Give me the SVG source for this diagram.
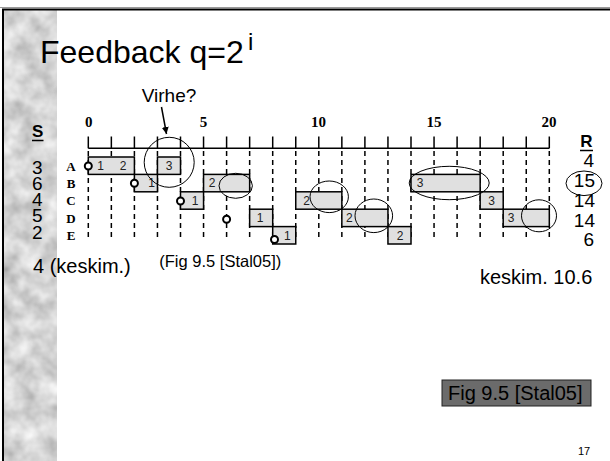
<svg xmlns="http://www.w3.org/2000/svg" width="610" height="461" viewBox="0 0 610 461">
<style>
.sans{font-family:"Liberation Sans",Arial,sans-serif;}
.serifb{font-family:"Liberation Serif","Times New Roman",serif;font-weight:bold;}
.box{fill:#e0e0e0;stroke:#000;stroke-width:1.5;}
.bl{font-family:"Liberation Sans",Arial,sans-serif;font-size:12px;fill:#222;text-anchor:middle;}
.dash{stroke:#000;stroke-width:1.5;stroke-dasharray:5 4;}
.tick{stroke:#000;stroke-width:1.5;}
.ell{fill:none;stroke:#000;stroke-width:1;}
.start{fill:#fff;stroke:#000;stroke-width:2;}
.num{font-family:"Liberation Sans",Arial,sans-serif;font-size:19px;fill:#000;}
</style>
<defs>
<filter id="tex" x="0" y="0" width="1" height="1">
<feTurbulence type="fractalNoise" baseFrequency="0.05" numOctaves="3" seed="7"/>
<feColorMatrix type="matrix" values="0.7 0 0 0 0.32  0.7 0 0 0 0.32  0.7 0 0 0 0.32  0 0 0 0 1"/>
</filter>
<marker id="arr" markerWidth="8" markerHeight="8" refX="7" refY="4" orient="auto" markerUnits="userSpaceOnUse">
<path d="M0,0.5 L7,4 L0,7.5 z" fill="#000"/>
</marker>
</defs>
<rect width="610" height="461" fill="#fff"/>
<g id="background">
<rect x="4" y="10" width="53" height="451" fill="#aaa" filter="url(#tex)"/>
<line x1="0" y1="7.5" x2="610" y2="7.5" stroke="#999" stroke-width="1"/>
<line x1="2" y1="9.5" x2="610" y2="9.5" stroke="#000" stroke-width="2"/>
<line x1="3" y1="9" x2="3" y2="461" stroke="#000" stroke-width="2"/>
</g>
<g id="title">
<text class="sans" x="40" y="63" font-size="32">Feedback q=2</text>
<text class="sans" x="248" y="50" font-size="24">i</text>
</g>
<g id="axis">
<line x1="88.3" y1="148.3" x2="549.3" y2="148.3" class="tick"/>
<g class="tick">
<line x1="88.3" y1="136.5" x2="88.3" y2="148.3"/><line x1="111.35" y1="136.5" x2="111.35" y2="148.3"/>
<line x1="134.4" y1="136.5" x2="134.4" y2="148.3"/><line x1="157.45" y1="136.5" x2="157.45" y2="148.3"/>
<line x1="180.5" y1="136.5" x2="180.5" y2="148.3"/><line x1="203.55" y1="136.5" x2="203.55" y2="148.3"/>
<line x1="226.6" y1="136.5" x2="226.6" y2="148.3"/><line x1="249.65" y1="136.5" x2="249.65" y2="148.3"/>
<line x1="272.7" y1="136.5" x2="272.7" y2="148.3"/><line x1="295.75" y1="136.5" x2="295.75" y2="148.3"/>
<line x1="318.8" y1="136.5" x2="318.8" y2="148.3"/><line x1="341.85" y1="136.5" x2="341.85" y2="148.3"/>
<line x1="364.9" y1="136.5" x2="364.9" y2="148.3"/><line x1="387.95" y1="136.5" x2="387.95" y2="148.3"/>
<line x1="411" y1="136.5" x2="411" y2="148.3"/><line x1="434.05" y1="136.5" x2="434.05" y2="148.3"/>
<line x1="457.1" y1="136.5" x2="457.1" y2="148.3"/><line x1="480.15" y1="136.5" x2="480.15" y2="148.3"/>
<line x1="503.2" y1="136.5" x2="503.2" y2="148.3"/><line x1="526.25" y1="136.5" x2="526.25" y2="148.3"/>
<line x1="549.3" y1="136.5" x2="549.3" y2="148.3"/>
</g>
<g class="dash">
<line x1="88.3" y1="151" x2="88.3" y2="241"/><line x1="111.35" y1="151" x2="111.35" y2="241"/>
<line x1="134.4" y1="151" x2="134.4" y2="241"/><line x1="157.45" y1="151" x2="157.45" y2="241"/>
<line x1="180.5" y1="151" x2="180.5" y2="241"/><line x1="203.55" y1="151" x2="203.55" y2="241"/>
<line x1="226.6" y1="151" x2="226.6" y2="241"/><line x1="249.65" y1="151" x2="249.65" y2="241"/>
<line x1="272.7" y1="151" x2="272.7" y2="241"/><line x1="295.75" y1="151" x2="295.75" y2="241"/>
<line x1="318.8" y1="151" x2="318.8" y2="241"/><line x1="341.85" y1="151" x2="341.85" y2="241"/>
<line x1="364.9" y1="151" x2="364.9" y2="241"/><line x1="387.95" y1="151" x2="387.95" y2="241"/>
<line x1="411" y1="151" x2="411" y2="241"/><line x1="434.05" y1="151" x2="434.05" y2="241"/>
<line x1="457.1" y1="151" x2="457.1" y2="241"/><line x1="480.15" y1="151" x2="480.15" y2="241"/>
<line x1="503.2" y1="151" x2="503.2" y2="241"/><line x1="526.25" y1="151" x2="526.25" y2="241"/>
<line x1="549.3" y1="151" x2="549.3" y2="241"/>
</g>
<g class="serifb" font-size="15" text-anchor="middle">
<text x="88.8" y="126.5">0</text><text x="203.5" y="126.5">5</text><text x="318.5" y="126.5">10</text>
<text x="434" y="126.5">15</text><text x="549" y="126.5">20</text>
</g>
<g class="serifb" font-size="13" text-anchor="middle">
<text x="71" y="171">A</text><text x="71" y="188.3">B</text><text x="71" y="205.4">C</text>
<text x="71" y="222.6">D</text><text x="71" y="240">E</text>
</g>
</g>
<g id="row-A">
<rect class="box" x="88.3" y="157" width="46.1" height="17.4"/>
<rect class="box" x="157.45" y="157" width="23.05" height="17.4"/>
<text class="bl" x="100.5" y="170">1</text><text class="bl" x="123" y="170">2</text><text class="bl" x="169" y="170">3</text>
<circle class="start" cx="88.3" cy="166" r="3.5"/>
</g>
<g id="row-B">
<rect class="box" x="134.4" y="174.4" width="23.05" height="17.4"/>
<rect class="box" x="203.55" y="174.4" width="46.1" height="17.4"/>
<rect class="box" x="411" y="174.4" width="69.15" height="17.4"/>
<text class="bl" x="151.5" y="187.4">1</text><text class="bl" x="212" y="187.4">2</text><text class="bl" x="420" y="187.4">3</text>
<circle class="start" cx="134.4" cy="183.3" r="3.5"/>
</g>
<g id="row-C">
<rect class="box" x="180.5" y="191.8" width="23.05" height="17.4"/>
<rect class="box" x="295.75" y="191.8" width="46.1" height="17.4"/>
<rect class="box" x="480.15" y="191.8" width="23.05" height="17.4"/>
<text class="bl" x="195" y="204.8">1</text><text class="bl" x="306.7" y="204.8">2</text><text class="bl" x="491.7" y="204.8">3</text>
<circle class="start" cx="180.5" cy="201" r="3.5"/>
</g>
<g id="row-D">
<rect class="box" x="249.65" y="209.2" width="23.05" height="17.4"/>
<rect class="box" x="341.85" y="209.2" width="46.1" height="17.4"/>
<rect class="box" x="503.2" y="209.2" width="46.1" height="17.4"/>
<text class="bl" x="260" y="222.2">1</text><text class="bl" x="349.3" y="222.2">2</text><text class="bl" x="511" y="222.2">3</text>
<circle class="start" cx="226.6" cy="219.3" r="3.5"/>
</g>
<g id="row-E">
<rect class="box" x="272.7" y="226.6" width="23.05" height="17.4"/>
<rect class="box" x="387.95" y="226.6" width="23.05" height="17.4"/>
<text class="bl" x="287.3" y="239.6">1</text><text class="bl" x="400" y="239.6">2</text>
<circle class="start" cx="274.5" cy="239.5" r="3.5"/>
</g>
<g id="highlights">
<circle class="ell" cx="169.2" cy="162.3" r="25"/>
<ellipse class="ell" cx="235.7" cy="185.8" rx="16.7" ry="12.5"/>
<ellipse class="ell" cx="329.2" cy="196.8" rx="19.2" ry="15.8"/>
<ellipse class="ell" cx="373.8" cy="215.8" rx="18.8" ry="16.8"/>
<ellipse class="ell" cx="449.2" cy="183" rx="40" ry="16.7"/>
<ellipse class="ell" cx="539" cy="215.8" rx="17.5" ry="16"/>
<ellipse class="ell" cx="584" cy="183.3" rx="18" ry="12.3"/>
</g>
<g id="virhe">
<text class="sans" x="141.7" y="101.7" font-size="19">Virhe?</text>
</g>
<g id="connectors">
<line x1="161.5" y1="107" x2="166.5" y2="134" stroke="#000" stroke-width="1.5" marker-end="url(#arr)"/>
</g>
<g id="S-column">
<text class="sans" x="32" y="137" font-size="17" font-weight="bold">S</text>
<line x1="32" y1="140.5" x2="43.5" y2="140.5" stroke="#000" stroke-width="1.5"/>
<text class="num" font-size="20"><tspan x="32" y="173.5">3</tspan><tspan x="32" y="189.8">6</tspan><tspan x="32" y="206.1">4</tspan><tspan x="32" y="222.4">5</tspan><tspan x="32" y="238.7">2</tspan></text>
</g>
<g id="R-column">
<text class="sans" x="586.5" y="147" font-size="17" font-weight="bold" text-anchor="middle">R</text>
<line x1="580" y1="150.5" x2="593" y2="150.5" stroke="#000" stroke-width="1.5"/>
<g class="num" text-anchor="end">
<text x="594" y="166.7">4</text>
<text x="595" y="187.3">15</text>
<text x="595" y="207.3">14</text>
<text x="595" y="227.3">14</text>
<text x="594" y="246">6</text>
</g>
</g>
<g id="notes">
<text class="sans" x="33" y="273" font-size="20">4 (keskim.)</text>
<text class="sans" x="159.3" y="267" font-size="16.5">(Fig 9.5 [Stal05])</text>
<text class="sans" x="480" y="284" font-size="20">keskim. 10.6</text>
</g>
<g id="figref">
<rect x="442" y="380" width="149" height="26" fill="#6b6b6b" stroke="#222" stroke-width="1"/>
<text class="sans" x="448" y="400" font-size="20" fill="#000">Fig 9.5 [Stal05]</text>
</g>
<g id="page">
<text class="sans" x="578" y="455" font-size="11">17</text>
</g>
</svg>
